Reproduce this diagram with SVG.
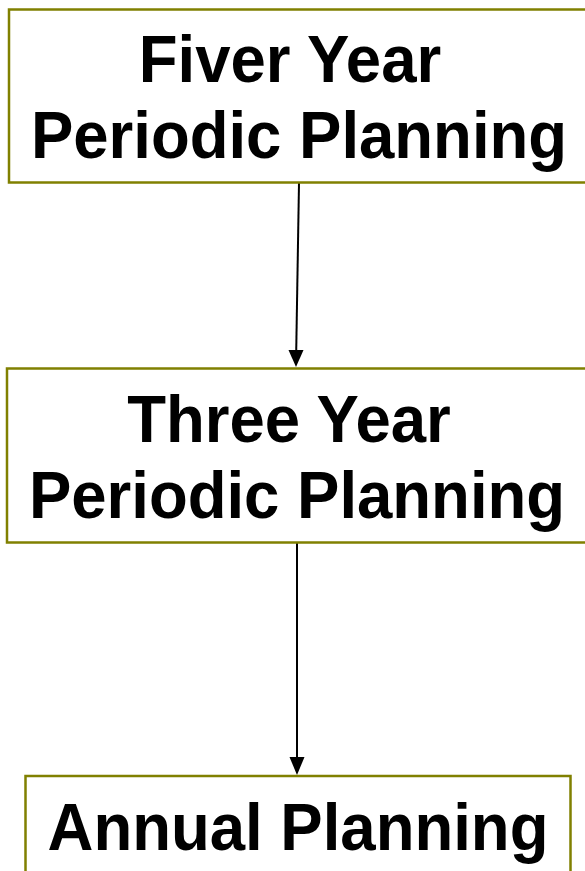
<svg xmlns="http://www.w3.org/2000/svg" width="585" height="871" viewBox="0 0 585 871">
<style>
.box{fill:#fff;stroke:#808000;stroke-width:2.5}
.t{font-family:"Liberation Sans",Arial,sans-serif;font-weight:bold;font-size:63.5px;fill:#000;text-anchor:middle}
.c{stroke:#000;stroke-width:2;fill:none}
.ah{fill:#000}
</style>
<rect width="585" height="871" fill="#fff"/>
<g id="connectors">
<path class="c" d="M299,183 L296.2,352"/>
<path class="c" d="M297,543 L297,759"/>
<path class="ah" d="M288.5,350 L303.5,350 L296,367 Z"/>
<path class="ah" d="M289.5,757 L304.5,757 L297,775 Z"/>
</g>
<g id="node1">
<rect class="box" x="9" y="9.5" width="582" height="173"/>
<text class="t" transform="translate(290,82) scale(1,1.05)">Fiver Year</text>
<text class="t" transform="translate(299,158) scale(1,1.05)">Periodic Planning</text>
</g>
<g id="node2">
<rect class="box" x="7" y="368.5" width="586" height="174"/>
<text class="t" transform="translate(289,442) scale(1,1.05)">Three Year</text>
<text class="t" transform="translate(297,518) scale(1,1.05)">Periodic Planning</text>
</g>
<g id="node3">
<rect class="box" x="25.5" y="776" width="545" height="120"/>
<text class="t" transform="translate(298,850) scale(1,1.05)">Annual Planning</text>
</g>
</svg>
